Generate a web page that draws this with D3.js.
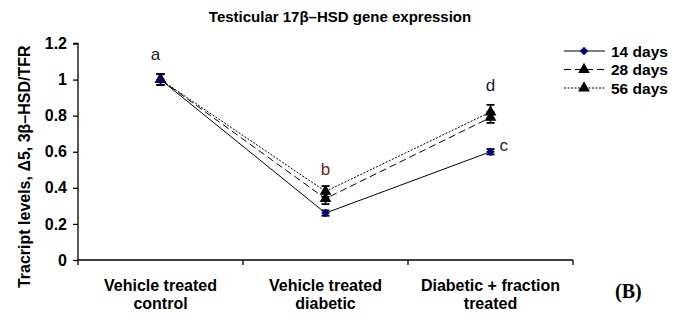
<!DOCTYPE html>
<html><head><meta charset="utf-8">
<script src="https://cdn.jsdelivr.net/npm/d3@7"></script>
<style>body{margin:0;background:#fff}svg{display:block}</style>
</head><body><svg id="c" width="676" height="325" font-family="Arial, 'Liberation Sans', sans-serif"></svg>
<script>
const categories = [["Vehicle treated","control"],["Vehicle treated","diabetic"],["Diabetic + fraction","treated"]];
const seriesNames = ["14 days","28 days","56 days"];
const values14 = [1.0, 0.26, 0.60];
const values28 = [1.0, 0.34, 0.79];
const values56 = [1.0, 0.38, 0.82];
const errors14 = [0.03, 0.015, 0.015];
const errors28 = [0.03, 0.03, 0.03];
const errors56 = [0.03, 0.03, 0.04];
const letters = ["a","b","d"];
const letterC = "c";
const yTicks = [0, 0.2, 0.4, 0.6, 0.8, 1, 1.2];

const svg = d3.select("#c");
const FONT = "Arial, 'Liberation Sans', sans-serif";
const x0 = 78, x1 = 573, yTop = 43.5, yBot = 260;
const x = d3.scaleBand().domain([0,1,2]).range([x0, x1]).paddingInner(0).paddingOuter(0);
const y = d3.scaleLinear().domain([0, 1.2]).range([yBot, yTop]);
const cx = i => x(i) + x.bandwidth()/2;

// title
svg.append("text").attr("x", 340).attr("y", 22).attr("text-anchor","middle")
  .attr("font-size", 15).attr("font-weight","bold").text("Testicular 17β–HSD gene expression");

// y axis
const ya = svg.append("g").attr("transform",`translate(${x0},0)`)
  .call(d3.axisLeft(y).tickValues(yTicks).tickSize(5).tickFormat(d => d3.format("")(+d.toFixed(1))));
ya.attr("font-family", FONT);
ya.select(".domain").attr("stroke","#000").attr("stroke-width",1.3).attr("d",`M-5,${yTop}H0V${yBot}`);
ya.selectAll(".tick line").attr("stroke","#000").attr("stroke-width",1.3);
ya.selectAll(".tick text").attr("font-size",16).attr("font-weight","bold").attr("x",-11).attr("fill","#000");

// x axis
const xa = svg.append("g");
xa.append("line").attr("x1",x0).attr("x2",x1).attr("y1",yBot).attr("y2",yBot).attr("stroke","#000").attr("stroke-width",1.3);
[0,1,2,3].forEach(i=>{
  const xx = i<3 ? x(i) : x1;
  xa.append("line").attr("x1",xx).attr("x2",xx).attr("y1",yBot).attr("y2",yBot+5).attr("stroke","#000").attr("stroke-width",1.3);
});
categories.forEach((c,i)=>{
  const t = svg.append("text").attr("x",cx(i)).attr("y",291).attr("text-anchor","middle")
    .attr("font-size",16).attr("font-weight","bold");
  t.append("tspan").attr("x",cx(i)).attr("dy",0).text(c[0]);
  t.append("tspan").attr("x",cx(i)).attr("dy",18).text(c[1]);
});

// y label
svg.append("text").attr("transform",`translate(30,${(yTop+yBot)/2+15}) rotate(-90)`).attr("text-anchor","middle")
  .attr("font-size",16).attr("font-weight","bold").text("Tracript levels, Δ5, 3β–HSD/TFR");

const series = [
  {name: seriesNames[0], vals: values14, errs: errors14, dash: null, marker: "diamond", color: "#000080"},
  {name: seriesNames[1], vals: values28, errs: errors28, dash: "7,4", marker: "triangle", color: "#000"},
  {name: seriesNames[2], vals: values56, errs: errors56, dash: "2,1.5", marker: "triangle", color: "#000"}
];
const line = d3.line().x((d,i)=>cx(i)).y(d=>y(d));
const sym = {diamond: d3.symbol().type(d3.symbolSquare).size(36), triangle: d3.symbol().type(d3.symbolTriangle).size(60)};
const rot = m => m === "diamond" ? " rotate(45)" : "";

series.slice().reverse().forEach(s=>{
  svg.append("path").attr("d", line(s.vals)).attr("fill","none").attr("stroke","#000").attr("stroke-width",1)
    .attr("stroke-dasharray", s.dash);
});
series.slice().reverse().forEach(s=>{
  s.vals.forEach((v,i)=>{
    const g = svg.append("g");
    const e = s.errs[i];
    g.append("line").attr("x1",cx(i)).attr("x2",cx(i)).attr("y1",y(v+e)).attr("y2",y(v-e)).attr("stroke","#000").attr("stroke-width",1.5);
    [v+e, v-e].forEach(w=>g.append("line").attr("x1",cx(i)-4).attr("x2",cx(i)+4).attr("y1",y(w)).attr("y2",y(w)).attr("stroke","#000").attr("stroke-width",1.8));
    g.append("path").attr("d", sym[s.marker]()).attr("transform",`translate(${cx(i)},${y(v)})${rot(s.marker)}`).attr("fill",s.color);
  });
});

// significance letters
const letterColors = ["#1a1a1a","#7a2010","#1a1a3a"];
const letterOffsets = [14, 11, 14];
const letterDx = [-5, 0, 0];
letters.forEach((l,i)=>{
  const top = Math.max(...series.map(s=>s.vals[i]+s.errs[i]));
  svg.append("text").attr("x",cx(i)+letterDx[i]).attr("y",y(top)-letterOffsets[i]).attr("text-anchor","middle")
    .attr("font-size",17).attr("fill",letterColors[i]).text(l);
});
svg.append("text").attr("x",cx(2)+9).attr("y",y(values14[2])-1).attr("font-size",17).attr("fill","#1a1a3a").text(letterC);

// legend
series.forEach((s,k)=>{
  const ly = 51 + k*18.5;
  svg.append("line").attr("x1",564).attr("x2",605).attr("y1",ly).attr("y2",ly).attr("stroke","#000").attr("stroke-width",1)
    .attr("stroke-dasharray", s.dash);
  svg.append("path").attr("d", sym[s.marker]()).attr("transform",`translate(584,${ly})${rot(s.marker)}`).attr("fill",s.color);
  svg.append("text").attr("x",611).attr("y",ly+5.5).attr("font-size",15.5).attr("font-weight","bold").text(s.name);
});

svg.append("text").attr("x",615).attr("y",298).attr("font-family","'Liberation Serif','Times New Roman',serif")
  .attr("font-size",20).attr("font-weight","bold").text("(B)");
</script></body></html>
